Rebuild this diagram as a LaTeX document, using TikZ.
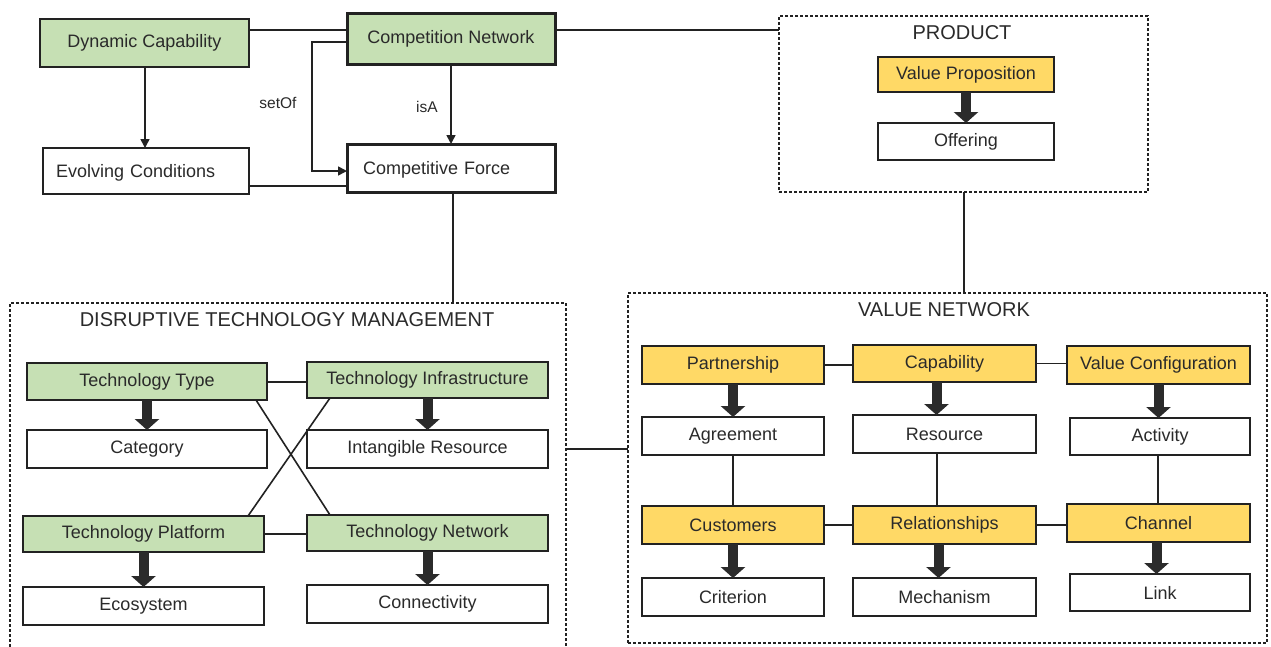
\documentclass[tikz,border=0pt]{standalone}
\usepackage{fontspec}
\setmainfont{Liberation Sans}
\usetikzlibrary{arrows.meta}
\definecolor{gfill}{HTML}{C6E0B4}
\definecolor{yfill}{HTML}{FFD966}
\definecolor{ink}{HTML}{222222}
\definecolor{txt}{HTML}{2A2A2A}
\definecolor{barrow}{HTML}{2B2B2B}
\tikzset{
  base/.style={draw=ink, line width=1.5pt, inner sep=0pt, outer sep=0pt, text=txt, font=\fontsize{18}{20}\selectfont},
  gbox/.style={base, fill=gfill},
  ybox/.style={base, fill=yfill},
  wbox/.style={base, fill=white},
  heavy/.style={line width=3pt},
  group/.style={draw=ink, line width=1.4pt, dash pattern=on 3pt off 2pt, inner sep=0pt, outer sep=0pt},
  gtitle/.style={text=txt, inner sep=0pt, font=\fontsize{20}{22}\selectfont},
  lbl/.style={text=txt, inner sep=0pt, font=\fontsize{15.5}{18}\selectfont},
  conn/.style={draw=ink, line width=1.6pt},
  tipped/.style={conn, -{Triangle[width=9pt,length=9pt]}},
  bigarrow/.style={draw=barrow, line width=10pt, -{Triangle[width=24pt,length=11pt]}}
}
\begin{document}
\begin{tikzpicture}[x=1pt,y=-1pt]
\clip (0,0) rectangle (1271,646);
\fill[white] (0,0) rectangle (1271,646);

% group frames
\node[group, minimum width=369pt, minimum height=176pt] (prod) at (963.5,104) {};
\node[group, minimum width=556pt, minimum height=357pt] (dtm) at (288,481.5) {};
\node[group, minimum width=639pt, minimum height=350pt] (vn) at (947.5,468) {};
\node[gtitle] (prodt) at (962,33) {PRODUCT};
\node[gtitle] (dtmt) at (287,320) {DISRUPTIVE TECHNOLOGY MANAGEMENT};
\node[gtitle] (vnt) at (944,310) {VALUE NETWORK};

% top-left nodes
\node[gbox, minimum width=209pt, minimum height=48pt] (dc) at (144.5,43) {Dynamic Capability};
\node[gbox, heavy, minimum width=208pt, minimum height=51pt] (cn) at (451,38.5) {Competition Network};
\node[wbox, minimum width=206pt, minimum height=46pt, text width=180pt, align=left, text depth=0pt] (ec) at (146,171) {Evolving Conditions};
\node[wbox, heavy, minimum width=208pt, minimum height=48pt, text width=176pt, align=left, text depth=0pt] (cf) at (451,168) {Competitive Force};
\node[lbl] (setof) at (278,103) {setOf};
\node[lbl] (isa) at (427,107) {isA};

% product
\node[ybox, minimum width=176pt, minimum height=35pt] (vp) at (966,74.5) {Value Proposition};
\node[wbox, minimum width=176pt, minimum height=37pt] (off) at (966,141.5) {Offering};

% disruptive technology management
\node[gbox, minimum width=240pt, minimum height=37pt] (tt) at (147,381.5) {Technology Type};
\node[gbox, minimum width=241pt, minimum height=36pt] (ti) at (427.5,380) {Technology Infrastructure};
\node[wbox, minimum width=240pt, minimum height=38pt] (cat) at (147,449) {Category};
\node[wbox, minimum width=241pt, minimum height=38pt] (ir) at (427.5,449) {Intangible Resource};
\node[gbox, minimum width=241pt, minimum height=36pt] (tp) at (143.5,534) {Technology Platform};
\node[gbox, minimum width=241pt, minimum height=36pt] (tn) at (427.5,533) {Technology Network};
\node[wbox, minimum width=241pt, minimum height=38pt] (eco) at (143.5,606) {Ecosystem};
\node[wbox, minimum width=241pt, minimum height=38pt] (con) at (427.5,604) {Connectivity};

% value network
\node[ybox, minimum width=182pt, minimum height=38pt] (part) at (733,365) {Partnership};
\node[ybox, minimum width=183pt, minimum height=37pt] (cap) at (944.5,363.5) {Capability};
\node[ybox, minimum width=183pt, minimum height=38pt] (vc) at (1158.5,365) {Value Configuration};
\node[wbox, minimum width=182pt, minimum height=38pt] (agr) at (733,436) {Agreement};
\node[wbox, minimum width=183pt, minimum height=38pt] (res) at (944.5,434) {Resource};
\node[wbox, minimum width=180pt, minimum height=37pt] (act) at (1160,436.5) {Activity};
\node[ybox, minimum width=182pt, minimum height=38pt] (cus) at (733,525) {Customers};
\node[ybox, minimum width=183pt, minimum height=38pt] (rel) at (944.5,525) {Relationships};
\node[ybox, minimum width=183pt, minimum height=38pt] (chan) at (1158.5,523) {Channel};
\node[wbox, minimum width=182pt, minimum height=38pt] (cri) at (733,597) {Criterion};
\node[wbox, minimum width=183pt, minimum height=38pt] (mech) at (944.5,597) {Mechanism};
\node[wbox, minimum width=180pt, minimum height=37pt] (link) at (1160,592.5) {Link};

% top connectors
\draw[conn] ([yshift=13pt]dc.east) -- ([yshift=13pt]dc.east -| cn.west);
\draw[tipped] ([xshift=0.5pt]dc.south) -- ([xshift=0.5pt]dc.south |- ec.north);
\coordinate (sx) at (312,0);
\draw[tipped] ([yshift=-3.5pt]cn.west) -| ([yshift=-3pt]cf.west -| sx) -- ([yshift=-3pt]cf.west);
\draw[tipped] (cn.south) -- (cf.north);
\draw[conn] ([yshift=-15pt]ec.east) -- ([yshift=-15pt]ec.east -| cf.west);
\draw[conn] ([yshift=8.5pt]cn.east) -- ([yshift=8.5pt]cn.east -| prod.west);
\draw[conn] ([xshift=2pt]cf.south) -- ([xshift=2pt]cf.south |- dtm.north);
\draw[conn] ([xshift=0.5pt]prod.south) -- ([xshift=0.5pt]prod.south |- vn.north);
\draw[conn] (cat -| dtm.east) -- (cat -| vn.west);

% product arrow
\draw[bigarrow] (vp.south) -- (off.north);

% DTM connectors
\draw[conn] ([yshift=-0.5pt]tt.east) -- ([yshift=-0.5pt]tt.east -| ti.west);
\draw[conn] (tp.east) -- (tp.east -| tn.west);
\draw[conn] ([xshift=-11pt]tt.south east) -- ([xshift=23pt]tn.north west);
\draw[conn] ([xshift=23pt]ti.south west) -- ([xshift=-16pt]tp.north east);
\draw[bigarrow] (tt.south) -- (tt.south |- cat.north);
\draw[bigarrow] (ti.south) -- (ti.south |- ir.north);
\draw[bigarrow] (tp.south) -- (tp.south |- eco.north);
\draw[bigarrow] (tn.south) -- (tn.south |- con.north);

% VN connectors
\draw[conn] (part.east) -- (part.east -| cap.west);
\draw[conn] (cap.east) -- (cap.east -| vc.west);
\draw[conn] (cus.east) -- (cus.east -| rel.west);
\draw[conn] (rel.east) -- (rel.east -| chan.west);
\draw[conn] (agr.south) -- (agr.south |- cus.north);
\draw[conn] ([xshift=-7.5pt]res.south) -- ([xshift=-7.5pt]res.south |- rel.north);
\draw[conn] ([xshift=-2pt]act.south) -- ([xshift=-2pt]act.south |- chan.north);
\draw[bigarrow] (part.south) -- (part.south |- agr.north);
\draw[bigarrow] ([xshift=-8pt]cap.south) -- ([xshift=-8pt]cap.south |- res.north);
\draw[bigarrow] (vc.south) -- (vc.south |- act.north);
\draw[bigarrow] (cus.south) -- (cus.south |- cri.north);
\draw[bigarrow] ([xshift=-6pt]rel.south) -- ([xshift=-6pt]rel.south |- mech.north);
\draw[bigarrow] ([xshift=-2pt]chan.south) -- ([xshift=-2pt]chan.south |- link.north);
\end{tikzpicture}
\end{document}
